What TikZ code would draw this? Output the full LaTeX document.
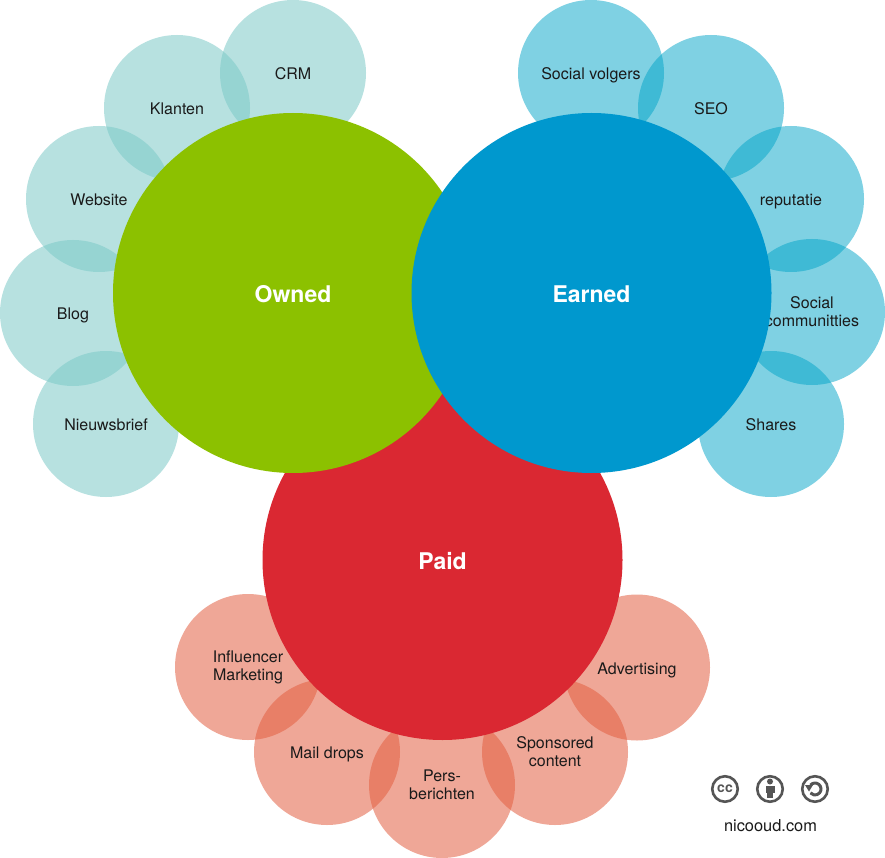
\documentclass[tikz,border=0pt]{standalone}
\usepackage{fontspec}
\setmainfont{TeX Gyre Heros}
\definecolor{Teal}{RGB}{124,202,200}
\definecolor{Sky}{RGB}{0,165,200}
\definecolor{Salmon}{RGB}{227,94,64}
\definecolor{OwnedGreen}{HTML}{8CC100}
\definecolor{EarnedBlue}{HTML}{0098CE}
\definecolor{PaidRed}{HTML}{DA2832}
\definecolor{Iconline}{HTML}{555555}
\definecolor{Ink}{HTML}{1A1A1A}
\newcommand{\twolines}[2]{\raisebox{-3pt}{#1}\\\raisebox{-3pt}{#2}}
\tikzset{
  small/.style={circle,inner sep=0pt,minimum size=146pt,align=center,text=Ink,text opacity=1,
    font=\fontsize{16}{18}\selectfont,
    execute at begin node=\rule{0pt}{17pt},execute at end node=\rule[-3.5pt]{0pt}{3.5pt}},
  owneditem/.style={small,fill=Teal,fill opacity=.55},
  earneditem/.style={small,fill=Sky,fill opacity=.5},
  paiditem/.style={small,fill=Salmon,fill opacity=.54},
  big/.style={circle,inner sep=0pt,minimum size=360pt,text=white,font=\fontsize{23}{26}\selectfont\bfseries,
    execute at begin node=\rule{0pt}{19pt}},
  icon/.style={circle,draw=Iconline,line width=2.6pt,inner sep=0pt,minimum size=25.5pt,text=Iconline}
}
\begin{document}
\begin{tikzpicture}[x=1pt,y=-1pt]
    \useasboundingbox[fill=white] (0,0) rectangle (885,858);
    % owned
    \node[owneditem] (crm) at (293,73) {CRM};
    \node[owneditem] (klanten) at (177,108) {Klanten};
    \node[owneditem] (website) at (99,199) {Website};
    \node[owneditem] (blog) at (73,313) {Blog};
    \node[owneditem] (nieuwsbrief) at (106,424) {Nieuwsbrief};
    % earned
    \node[earneditem] (volgers) at (591,73) {Social volgers};
    \node[earneditem] (seo) at (711,108) {SEO};
    \node[earneditem] (reputatie) at (791,199) {reputatie};
    \node[earneditem] (communities) at (812,312) {\twolines{Social}{communitties}};
    \node[earneditem] (shares) at (771,424) {Shares};
    % paid
    \node[paiditem] (influencer) at (248,667) {\twolines{Influencer}{Marketing}};
    \node[paiditem] (mail) at (327,752) {Mail drops};
    \node[paiditem] (pers) at (442,785) {\twolines{Pers-}{berichten}};
    \node[paiditem] (sponsored) at (555,752) {\twolines{Sponsored}{content}};
    \node[paiditem] (advertising) at (637,667.5) {Advertising};
    % big circles
    \node[big,fill=PaidRed] (paid) at (442.5,560) {Paid};
    \node[big,fill=OwnedGreen] (owned) at (293,293) {Owned};
    \node[big,fill=EarnedBlue] (earned) at (591.5,293) {Earned};
    % licence icons
    \node[icon,font=\fontsize{14}{14}\selectfont\bfseries] (cc) at (725,789) {cc};
    \node[icon] (by) at (770,789) {};
    \node[icon] (sa) at (815,789) {};
    \fill[Iconline] (770,781.5) circle (3pt);
    \fill[Iconline] (765.5,785.5) rectangle (774.5,792.5);
    \fill[Iconline] (767,792.5) rectangle (773,798);
    \draw[Iconline,line width=3pt] ([shift={(140:6pt)}]sa.center) arc[start angle=140,end angle=-140,radius=6pt];
    \fill[Iconline] (805,785) -- (813,785) -- (809,791.5) -- cycle;
    \node[font=\fontsize{16.4}{18}\selectfont,text=Ink] (site) at (770.5,826) {nicooud.com};
  \end{tikzpicture}
\end{document}
